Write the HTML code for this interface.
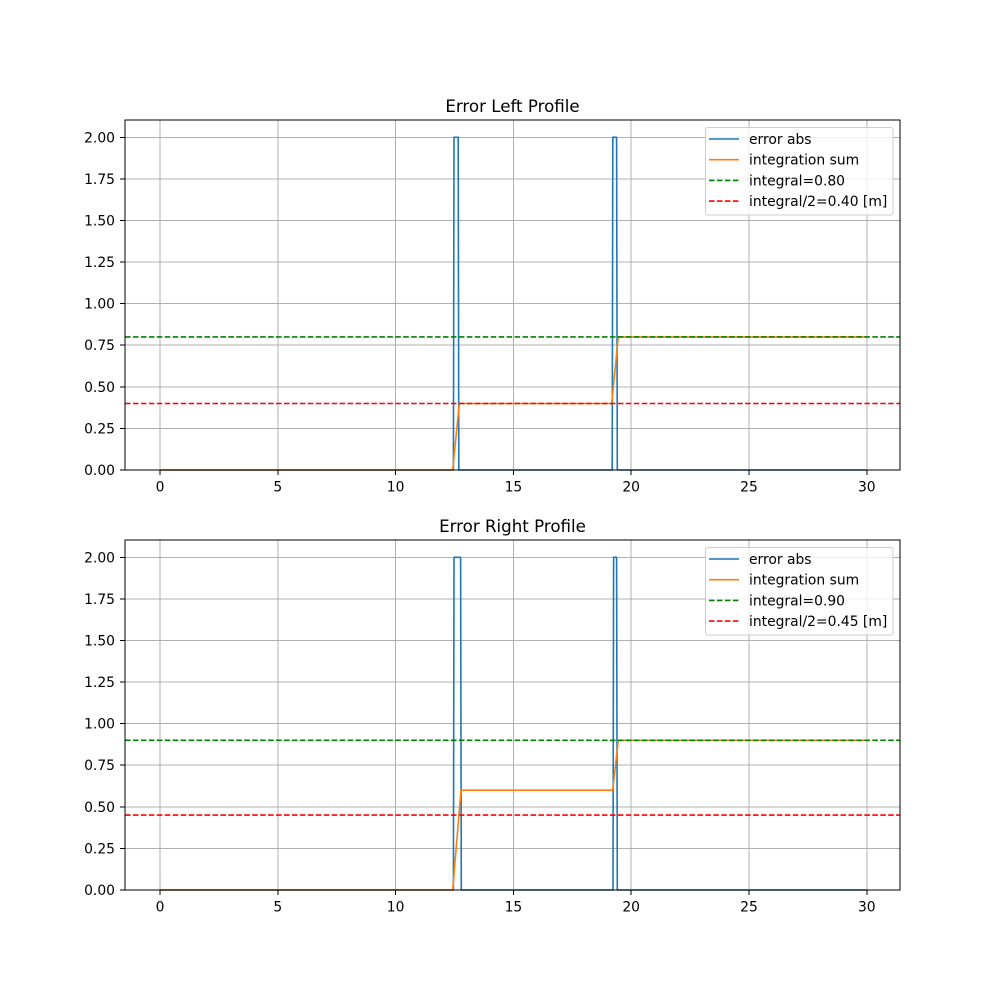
<!DOCTYPE html>
<html><head><meta charset="utf-8"><style>
html,body{margin:0;padding:0;background:#fff;}
svg{display:block;}
text{font-family:"DejaVu Sans","Liberation Sans",sans-serif;fill:#000;}
</style></head><body>
<svg width="1000" height="1000" viewBox="0 0 1000 1000" xmlns="http://www.w3.org/2000/svg">
<rect width="1000" height="1000" fill="#fff"/>
<defs>
<g id="grid">
  <g stroke="#b0b0b0" stroke-width="1" shape-rendering="crispEdges">
    <line x1="160" y1="120" x2="160" y2="470"/>
    <line x1="277.8" y1="120" x2="277.8" y2="470"/>
    <line x1="395.6" y1="120" x2="395.6" y2="470"/>
    <line x1="513.4" y1="120" x2="513.4" y2="470"/>
    <line x1="631.2" y1="120" x2="631.2" y2="470"/>
    <line x1="749" y1="120" x2="749" y2="470"/>
    <line x1="866.8" y1="120" x2="866.8" y2="470"/>
    <line x1="125" y1="428.4" x2="900" y2="428.4"/>
    <line x1="125" y1="386.8" x2="900" y2="386.8"/>
    <line x1="125" y1="345.2" x2="900" y2="345.2"/>
    <line x1="125" y1="303.6" x2="900" y2="303.6"/>
    <line x1="125" y1="262.1" x2="900" y2="262.1"/>
    <line x1="125" y1="220.5" x2="900" y2="220.5"/>
    <line x1="125" y1="178.9" x2="900" y2="178.9"/>
    <line x1="125" y1="137.3" x2="900" y2="137.3"/>
  </g>
</g>
<g id="axes">
  <g stroke="#000" stroke-width="1" shape-rendering="crispEdges">
    <line x1="160" y1="470" x2="160" y2="475"/>
    <line x1="277.8" y1="470" x2="277.8" y2="475"/>
    <line x1="395.6" y1="470" x2="395.6" y2="475"/>
    <line x1="513.4" y1="470" x2="513.4" y2="475"/>
    <line x1="631.2" y1="470" x2="631.2" y2="475"/>
    <line x1="749" y1="470" x2="749" y2="475"/>
    <line x1="866.8" y1="470" x2="866.8" y2="475"/>
    <line x1="120" y1="470" x2="125" y2="470"/>
    <line x1="120" y1="428.4" x2="125" y2="428.4"/>
    <line x1="120" y1="386.8" x2="125" y2="386.8"/>
    <line x1="120" y1="345.2" x2="125" y2="345.2"/>
    <line x1="120" y1="303.6" x2="125" y2="303.6"/>
    <line x1="120" y1="262.1" x2="125" y2="262.1"/>
    <line x1="120" y1="220.5" x2="125" y2="220.5"/>
    <line x1="120" y1="178.9" x2="125" y2="178.9"/>
    <line x1="120" y1="137.3" x2="125" y2="137.3"/>
  </g>
  <g font-size="13.89" text-anchor="middle">
    <text x="160" y="491.5">0</text>
    <text x="277.8" y="491.5">5</text>
    <text x="395.6" y="491.5">10</text>
    <text x="513.4" y="491.5">15</text>
    <text x="631.2" y="491.5">20</text>
    <text x="749" y="491.5">25</text>
    <text x="866.8" y="491.5">30</text>
  </g>
  <g font-size="13.89" text-anchor="end">
    <text x="115" y="475">0.00</text>
    <text x="115" y="433.4">0.25</text>
    <text x="115" y="391.8">0.50</text>
    <text x="115" y="350.2">0.75</text>
    <text x="115" y="308.6">1.00</text>
    <text x="115" y="267.1">1.25</text>
    <text x="115" y="225.5">1.50</text>
    <text x="115" y="183.9">1.75</text>
    <text x="115" y="142.3">2.00</text>
  </g>
</g>
</defs>

<!-- TOP AXES -->
<use href="#grid"/>
<g fill="none" stroke-width="1.6" stroke-linejoin="round">
  <polyline stroke="#1f77b4" points="160,470 453.4,470 454,137.3 458.2,137.3 458.8,470 612.2,470 612.8,137.3 616.6,137.3 617.3,470 866.7,470"/>
  <polyline stroke="#ff7f0e" points="160,470 452.7,470 459.3,403.5 611.7,403.5 618.3,336.9 866.7,336.9"/>
  <line x1="125" y1="336.9" x2="900" y2="336.9" stroke="#008000" stroke-dasharray="5.55,2.4"/>
  <line x1="125" y1="403.5" x2="900" y2="403.5" stroke="#ff0000" stroke-dasharray="5.55,2.4"/>
</g>
<rect x="125" y="120" width="775" height="350" fill="none" stroke="#000" stroke-width="1" shape-rendering="crispEdges"/>
<use href="#axes"/>
<text x="512.5" y="112" font-size="16.67" text-anchor="middle">Error Left Profile</text>
<g>
  <rect x="705.5" y="127.5" width="187.5" height="87.5" rx="2.5" fill="#fff" fill-opacity="0.8" stroke="#cccccc" stroke-width="1"/>
  <line x1="709" y1="139" x2="739" y2="139" stroke="#1f77b4" stroke-width="1.6"/>
  <line x1="709" y1="159.7" x2="739" y2="159.7" stroke="#ff7f0e" stroke-width="1.6"/>
  <line x1="709" y1="180.4" x2="739" y2="180.4" stroke="#008000" stroke-width="1.6" stroke-dasharray="5.55,2.4"/>
  <line x1="709" y1="201.1" x2="739" y2="201.1" stroke="#ff0000" stroke-width="1.6" stroke-dasharray="5.55,2.4"/>
  <g font-size="13.89">
    <text x="749" y="144">error abs</text>
    <text x="749" y="164.7">integration sum</text>
    <text x="749" y="185.4">integral=0.80</text>
    <text x="749" y="206.1">integral/2=0.40 [m]</text>
  </g>
</g>

<!-- BOTTOM AXES -->
<g transform="translate(0,420)">
<use href="#grid"/>
<g fill="none" stroke-width="1.6" stroke-linejoin="round">
  <polyline stroke="#1f77b4" points="160,470 453.4,470 454,137.3 460.6,137.3 461.3,470 613,470 613.6,137.3 616.6,137.3 617.3,470 866.7,470"/>
  <polyline stroke="#ff7f0e" points="160,470 452.7,470 461,370.2 612.7,370.2 618.3,320.3 866.7,320.3"/>
  <line x1="125" y1="320.3" x2="900" y2="320.3" stroke="#008000" stroke-dasharray="5.55,2.4"/>
  <line x1="125" y1="395.1" x2="900" y2="395.1" stroke="#ff0000" stroke-dasharray="5.55,2.4"/>
</g>
<rect x="125" y="120" width="775" height="350" fill="none" stroke="#000" stroke-width="1" shape-rendering="crispEdges"/>
<use href="#axes"/>
<text x="512.5" y="112" font-size="16.67" text-anchor="middle">Error Right Profile</text>
<g>
  <rect x="705.5" y="127.5" width="187.5" height="87.5" rx="2.5" fill="#fff" fill-opacity="0.8" stroke="#cccccc" stroke-width="1"/>
  <line x1="709" y1="139" x2="739" y2="139" stroke="#1f77b4" stroke-width="1.6"/>
  <line x1="709" y1="159.7" x2="739" y2="159.7" stroke="#ff7f0e" stroke-width="1.6"/>
  <line x1="709" y1="180.4" x2="739" y2="180.4" stroke="#008000" stroke-width="1.6" stroke-dasharray="5.55,2.4"/>
  <line x1="709" y1="201.1" x2="739" y2="201.1" stroke="#ff0000" stroke-width="1.6" stroke-dasharray="5.55,2.4"/>
  <g font-size="13.89">
    <text x="749" y="144">error abs</text>
    <text x="749" y="164.7">integration sum</text>
    <text x="749" y="185.4">integral=0.90</text>
    <text x="749" y="206.1">integral/2=0.45 [m]</text>
  </g>
</g>
</g>
</svg>
</body></html>
